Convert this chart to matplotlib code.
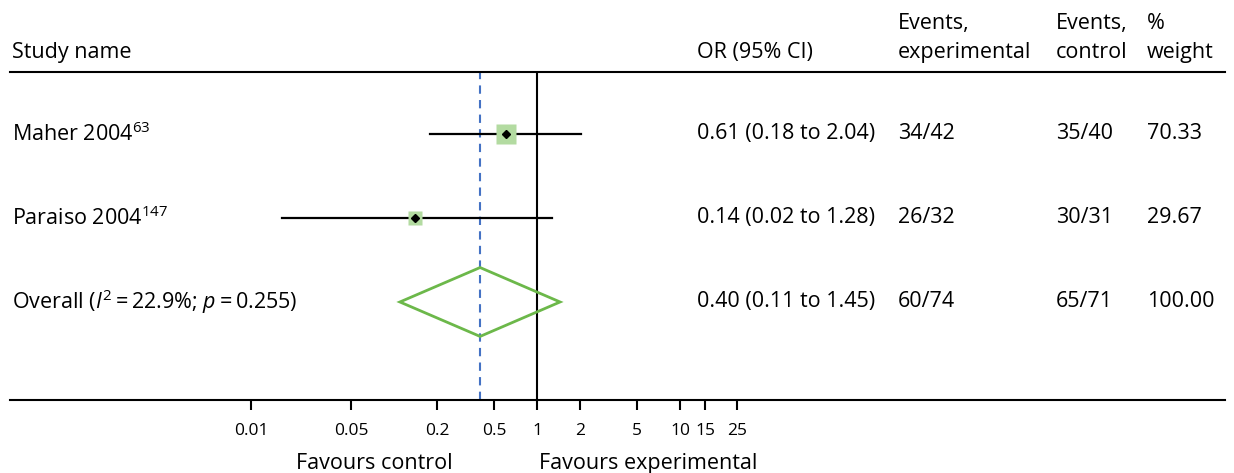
import numpy as np
import matplotlib
matplotlib.use("Agg")
import matplotlib.pyplot as plt
from matplotlib.patches import Polygon
from matplotlib.transforms import blended_transform_factory

# -------------------- data -------------------- #
study_names = ["Maher 2004$^{63}$", "Paraiso 2004$^{147}$"]
or_est = [0.61, 0.14]
ci_low = [0.18, 0.0165]
ci_high = [2.04, 1.28]
weights = [70.33, 29.67]

pooled_or = 0.40
pooled_low = 0.11
pooled_high = 1.45
overall_name = r"Overall ($\mathit{I}^{2}=\mathrm{22.9\%}$; $\mathit{p}=\mathrm{0.255}$)"

or_labels = ["0.61 (0.18 to 2.04)", "0.14 (0.02 to 1.28)", "0.40 (0.11 to 1.45)"]
events_exp = ["34/42", "26/32", "60/74"]
events_ctrl = ["35/40", "30/31", "65/71"]
weight_labels = ["70.33", "29.67", "100.00"]

xticks = [0.01, 0.05, 0.2, 0.5, 1, 2, 5, 10, 15, 25]
xtick_labels = ["0.01", "0.05", "0.2", "0.5", "1", "2", "5", "10", "15", "25"]

# -------------------- style -------------------- #
plt.rcParams["font.family"] = ["Open Sans", "DejaVu Sans"]
plt.rcParams["mathtext.fontset"] = "custom"
plt.rcParams["mathtext.rm"] = "Open Sans"
plt.rcParams["mathtext.it"] = "Open Sans:italic"
plt.rcParams["mathtext.bf"] = "Open Sans:bold"

fs = 15.5
sq_color = "#b3dba1"
diamond_color = "#6cb84a"
dash_color = "#4472c4"

fig = plt.figure(figsize=(12.34, 4.73), dpi=100)
ax = fig.add_axes([10 / 1234, 73 / 473, 1215 / 1234, 328 / 473])

ax.set_xscale("log")
ax.set_xlim(10 ** -3.685, 10 ** 4.811)
ax.set_ylim(4.167, 0.262)

# reference lines
ax.axvline(1, color="black", lw=1.5, zorder=1)
ax.axvline(pooled_or, color=dash_color, lw=1.5, dashes=(4, 3), zorder=1)

# study rows
rows = np.arange(1, len(study_names) + 1)
for y, est, lo, hi, w in zip(rows, or_est, ci_low, ci_high, weights):
    ax.plot([lo, hi], [y, y], color="black", lw=1.6, zorder=2)
    ax.plot(est, y, marker="s", ms=1.75 * np.sqrt(w), color=sq_color,
            mec="none", zorder=3)
    ax.plot(est, y, marker="D", ms=4.5, color="black", zorder=4)

# pooled diamond
yd = len(study_names) + 1
h = 0.41
diamond = Polygon([(pooled_low, yd), (pooled_or, yd - h), (pooled_high, yd),
                   (pooled_or, yd + h)], closed=True, fill=False,
                  edgecolor=diamond_color, lw=2, zorder=3)
ax.add_patch(diamond)

# axes styling
for s in ["left", "right"]:
    ax.spines[s].set_visible(False)
ax.spines["top"].set_linewidth(1.5)
ax.spines["bottom"].set_linewidth(1.5)
ax.set_yticks([])
ax.set_xticks(xticks)
ax.set_xticklabels(xtick_labels)
ax.minorticks_off()
ax.tick_params(axis="x", direction="out", length=7.5, width=1.5,
               labelsize=12.5, pad=9)

# text columns
trans = blended_transform_factory(ax.transAxes, ax.transData)
col_x = {"name": 0.0016, "or": 0.5654, "exp": 0.7309, "ctrl": 0.8609, "wt": 0.9358}
names = study_names + [overall_name]
all_rows = list(rows) + [yd]
for i, y in enumerate(all_rows):
    ax.text(col_x["name"], y, names[i], transform=trans, fontsize=fs,
            va="center", ha="left")
    ax.text(col_x["or"], y, or_labels[i], transform=trans, fontsize=fs,
            va="center", ha="left")
    ax.text(col_x["exp"], y, events_exp[i], transform=trans, fontsize=fs,
            va="center", ha="left")
    ax.text(col_x["ctrl"], y, events_ctrl[i], transform=trans, fontsize=fs,
            va="center", ha="left")
    ax.text(col_x["wt"], y, weight_labels[i], transform=trans, fontsize=fs,
            va="center", ha="left")

# header
y_bot = (400 - 58) / 328
y_top = (400 - 29) / 328
ax.text(col_x["name"], y_bot, "Study name", transform=ax.transAxes,
        fontsize=fs, va="baseline")
ax.text(col_x["or"], y_bot, "OR (95% CI)", transform=ax.transAxes,
        fontsize=fs, va="baseline")
ax.text(col_x["exp"], y_top, "Events,", transform=ax.transAxes,
        fontsize=fs, va="baseline")
ax.text(col_x["exp"], y_bot, "experimental", transform=ax.transAxes,
        fontsize=fs, va="baseline")
ax.text(col_x["ctrl"], y_top, "Events,", transform=ax.transAxes,
        fontsize=fs, va="baseline")
ax.text(col_x["ctrl"], y_bot, "control", transform=ax.transAxes,
        fontsize=fs, va="baseline")
ax.text(col_x["wt"], y_top, "%", transform=ax.transAxes,
        fontsize=fs, va="baseline")
ax.text(col_x["wt"], y_bot, "weight", transform=ax.transAxes,
        fontsize=fs, va="baseline")

# favours labels
tx = blended_transform_factory(ax.transData, ax.transAxes)
y_fav = (400 - 469) / 328
ax.text(0.0725, y_fav, "Favours control", transform=tx, fontsize=fs,
        ha="center", va="baseline")
ax.text(6.0, y_fav, "Favours experimental", transform=tx, fontsize=fs,
        ha="center", va="baseline")

fig.savefig("out.png", dpi=100)
